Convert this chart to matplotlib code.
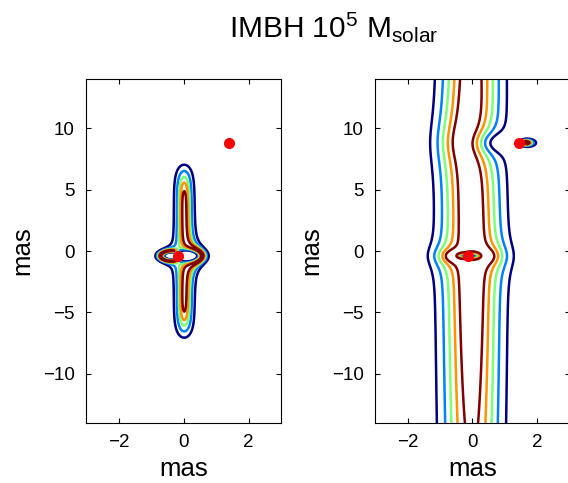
import matplotlib as mpl
import matplotlib.pyplot as plt
import numpy as np

plt.rcParams["font.family"] = "Liberation Sans"
plt.rcParams["mathtext.fontset"] = "custom"
plt.rcParams["mathtext.rm"] = "Liberation Sans"
plt.rcParams["mathtext.it"] = "Liberation Sans:italic"

# point lenses in the image plane (mas): the IMBH and a nearby star
lens_x = [-0.15, 1.43]
lens_y = [-0.40, 8.80]
# squared Einstein radii (mas^2) for each panel
lens_e2_left = [0.41, 0.0]
lens_e2_right = [0.28, 0.46]

# source profile: x centre, x width, y centre, y width, y exponent, macro y-stretch
src_left = [0.02, 0.27, 0.0, 6.5, 8, 0.20]
src_right = [-0.03, 0.98, 3.0, 52.0, 2, 0.05]

# contour levels (surface brightness)
levels_left = [0.26, 0.50, 0.70, 0.84, 0.95]
levels_right = [0.28, 0.46, 0.61, 0.75, 0.87]

# red markers
dots_left_x = [-0.17, 1.41]
dots_left_y = [-0.40, 8.80]
dots_right_x = [-0.13, 1.43]
dots_right_y = [-0.40, 8.80]

xticks = [-2, 0, 2]
yticks = [-10, -5, 0, 5, 10]


def lensed_image(X, Y, e2, src):
    x0, sx, y0, sy, py, ay = src
    defl_x = np.zeros_like(X)
    defl_y = np.zeros_like(Y)
    for xl, yl, e in zip(lens_x, lens_y, e2):
        dx = X - xl
        dy = Y - yl
        r2 = dx**2 + dy**2 + 1e-6
        defl_x += e * dx / r2
        defl_y += e * dy / r2
    u = (X - defl_x - x0) / sx
    v = (Y - defl_y / ay - y0) / sy
    return np.exp(-u**2 - np.abs(v)**py)


x = np.linspace(-3, 3, 601)
y = np.linspace(-14, 14, 1401)
X, Y = np.meshgrid(x, y)

colors = plt.cm.jet(np.linspace(0, 1, 5))

fig = plt.figure(figsize=(5.68, 4.83), dpi=100)
ax1 = fig.add_axes([86/568, 60/483, 195/568, 344/483])
ax2 = fig.add_axes([375/568, 60/483, 195/568, 344/483])

panels = [
    (ax1, lens_e2_left, src_left, levels_left, dots_left_x, dots_left_y),
    (ax2, lens_e2_right, src_right, levels_right, dots_right_x, dots_right_y),
]
for ax, e2, src, lev, dx, dy in panels:
    Z = lensed_image(X, Y, e2, src)
    ax.contour(X, Y, Z, levels=lev, colors=colors, linewidths=1.8)
    ax.plot(dx, dy, "o", color="red", ms=8, mec="none")
    ax.set_xlim(-3, 3)
    ax.set_ylim(-14, 14)
    ax.set_xticks(xticks)
    ax.set_yticks(yticks)
    ax.set_xticklabels(["\u22122", "0", "2"])
    ax.set_yticklabels(["\u221210", "\u22125", "0", "5", "10"])
    ax.tick_params(direction="in", top=True, right=True, length=3.5,
                   labelsize=13.5, pad=8, width=0.8)
    for s in ax.spines.values():
        s.set_linewidth(0.8)
    ax.set_xlabel("mas", fontsize=18.5, labelpad=4)
    ax.set_ylabel("mas", fontsize=18.5, labelpad=6)

fig.text(0.588, 1 - 37/483, r"IMBH 10$^5$ M$_{\mathrm{solar}}$",
         ha="center", va="baseline", fontsize=21.5)

fig.savefig("out.png", dpi=100)
